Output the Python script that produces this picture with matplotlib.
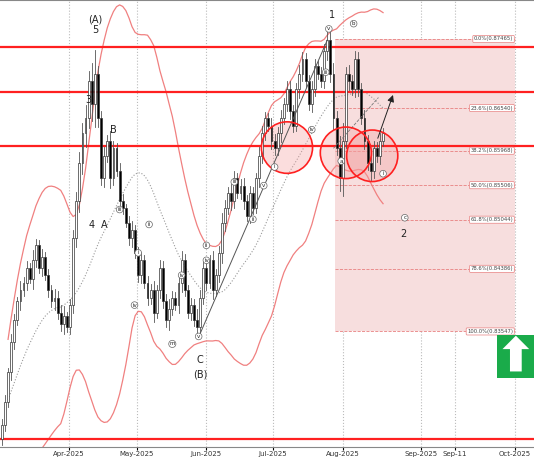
import numpy as np
import pandas as pd
import matplotlib
matplotlib.use("Agg")
import matplotlib.pyplot as plt
from matplotlib.patches import Ellipse, Rectangle, FancyArrow

closes = [0.8230, 0.8260, 0.8300, 0.8340,
          0.8370, 0.8395, 0.8410, 0.8420,
          0.8440, 0.8425, 0.8450, 0.8470, 0.8440, 0.8455,
          0.8430, 0.8410, 0.8395, 0.8400,
          0.8380, 0.8365, 0.8375, 0.8360,
          0.8390, 0.8480, 0.8530, 0.8580,
          0.8620, 0.8640, 0.8690, 0.8660, 0.8700,
          0.8640, 0.8560, 0.8590,
          0.8610, 0.8560, 0.8600, 0.8570, 0.8530,
          0.8520, 0.8500, 0.8480, 0.8490, 0.8460, 0.8430,
          0.8450, 0.8420, 0.8400, 0.8410, 0.8380, 0.8410,
          0.8440, 0.8395, 0.8370, 0.8385, 0.8400, 0.8390,
          0.8420, 0.8450, 0.8410, 0.8380, 0.8390, 0.8370, 0.8360,
          0.8400, 0.8440, 0.8420, 0.8450, 0.8410, 0.8430,
          0.8460, 0.8500, 0.8520, 0.8540, 0.8530,
          0.8560, 0.8540, 0.8550, 0.8530, 0.8510, 0.8540,
          0.8520, 0.8560, 0.8590, 0.8620, 0.8640,
          0.8630, 0.8610, 0.8600, 0.8620, 0.8640, 0.8660,
          0.8680, 0.8650, 0.8630, 0.8680, 0.8700, 0.8720,
          0.8690, 0.8660, 0.8680, 0.8710, 0.8700,
          0.8690, 0.8730, 0.8745, 0.8700,
          0.8640, 0.8600, 0.8560, 0.8610,
          0.8700, 0.8690, 0.8680, 0.8720,
          0.8680, 0.8640, 0.8610, 0.8580, 0.8570,
          0.8600, 0.8590, 0.8610, 0.8620]
first_open = 0.8210
wicks = [12, 15, 10, 18, 14, 10, 20, 12, 16, 10, 22, 14, 12, 18,
         10, 15, 12, 20, 14, 16, 22, 10, 14, 18, 20, 26, 24, 30, 22, 40,
         52, 18, 16, 20, 14, 22, 16, 12, 18, 14, 10, 16, 20, 12, 14,
         18, 12, 16, 14, 20, 12, 18, 14, 16, 22, 14, 12, 18, 20, 14,
         12, 16, 14, 24, 18, 14, 16, 12, 20, 14, 16, 22, 18, 14, 20,
         16, 12, 14, 18, 12, 16, 14, 12, 20, 16, 14, 12, 18, 16, 14,
         20, 12, 16, 18, 14, 12, 20, 16, 12, 14, 18, 16, 12, 14, 16,
         20, 18, 24, 16, 28, 40, 16, 20, 14, 18, 16, 12, 18, 14, 20,
         16, 14, 18, 12]

hlines = [0.87358, 0.86756, 0.86034, 0.82103]
fib_pct = ["0.0%", "23.6%", "38.2%", "50.0%", "61.8%", "78.6%", "100.0%"]
fib_lvl = [0.87465, 0.86540, 0.85968, 0.85506, 0.85044, 0.84386, 0.83547]
tick_pos = [21.6, 43.5, 65.8, 87.4, 110.0, 135.2, 146.1, 165.5]
tick_lab = ["Apr-2025", "May-2025", "Jun-2025", "Jul-2025", "Aug-2025",
            "Sep-2025", "Sep-11", "Oct-2025"]

fig = plt.figure(figsize=[5.34, 4.62], dpi=100)
ax = fig.add_axes([0, 15 / 462, 1, 1 - 15 / 462])
ax.set_xlim(-0.6, 171.7)
ax.set_ylim(0.81999, 0.87987)
ax.set_yticks([])
ax.set_xticks(tick_pos)
ax.set_xticklabels(tick_lab, fontsize=5, color="#333333")
ax.tick_params(axis="x", length=2, pad=1)
for s in ["left", "right"]:
    ax.spines[s].set_visible(False)
ax.spines["top"].set_color("#888888")
ax.spines["bottom"].set_color("#888888")
for p in tick_pos:
    ax.axvline(p, color="#bbbbbb", linestyle=":", linewidth=0.8, zorder=0)

# fibonacci box
x0, x1 = 107.5, 165.5
ax.add_patch(Rectangle((x0, fib_lvl[-1]), x1 - x0, fib_lvl[0] - fib_lvl[-1],
                       facecolor="#f7dede", edgecolor="none", zorder=0.5))
for pct, lvl in zip(fib_pct, fib_lvl):
    ax.plot([x0, x1], [lvl, lvl], color="#e88080", linestyle="--", linewidth=0.6, zorder=1)
    ax.text(x1 - 0.5, lvl, f"{pct}({lvl:.5f})", fontsize=3.8, ha="right", va="center",
            color="#444444", zorder=3,
            bbox=dict(boxstyle="round,pad=0.2", fc="white", ec="#e88080", lw=0.5))

# bollinger bands (smoothed)
c = pd.Series(closes)
mid = c.rolling(20, min_periods=3).mean().ewm(span=6).mean()
sd = c.rolling(20, min_periods=3).std().ewm(span=6).mean()
xs = np.arange(len(closes))
ax.plot(xs, mid + 2.3 * sd, color="#f08080", linewidth=0.9, zorder=1)
ax.plot(xs, mid - 2.3 * sd, color="#f08080", linewidth=0.9, zorder=1)
ax.plot(xs, mid, color="#999999", linestyle=":", linewidth=0.8, zorder=1)

for h in hlines:
    ax.axhline(h, color="#ff2020", linewidth=1.6, zorder=2)

# circles
for cx, cy in [(92, 0.8601), (111, 0.8594), (119.5, 0.8590)]:
    ax.add_patch(Ellipse((cx, cy), 16.5, 0.0069, facecolor="#f4a0a0", alpha=0.35,
                         edgecolor="none", zorder=1.5))
    ax.add_patch(Ellipse((cx, cy), 16.5, 0.0069, facecolor="none",
                         edgecolor="#ff2020", linewidth=1.2, zorder=4))

# candles
opens = [first_open] + closes[:-1]
for i, (o, cl, w) in enumerate(zip(opens, closes, wicks)):
    hi = max(o, cl) + w * 1e-4 * 0.6
    lo = min(o, cl) - w * 1e-4 * 0.6
    ax.plot([i, i], [lo, hi], color="#555555", linewidth=0.6, zorder=3)
    up = cl >= o
    ax.add_patch(Rectangle((i - 0.3, min(o, cl)), 0.6, max(abs(cl - o), 0.0002),
                           facecolor="white" if up else "black",
                           edgecolor="#333333", linewidth=0.5, zorder=3))

# trend lines
ax.plot([107, 121.5], [0.8600, 0.8668], color="#777777", linestyle="--", linewidth=0.6, zorder=3)
ax.annotate("", xy=(126.5, 0.8675), xytext=(121, 0.8610),
            arrowprops=dict(arrowstyle="-|>", color="#222222", lw=0.7), zorder=5)
ax.plot([64, 105], [0.8352, 0.8745], color="#555555", linewidth=0.7, zorder=3)

# wave labels
big = [("(A)", 30, 0.8772), ("5", 30, 0.8758), ("3", 27.8, 0.8665), ("B", 36, 0.8625),
       ("4", 29, 0.8497), ("A", 33, 0.8497), ("1", 106.5, 0.8779), ("2", 129.5, 0.8485),
       ("C", 64, 0.8317), ("(B)", 64, 0.8297)]
for t, x, y in big:
    ax.text(x, y, t, fontsize=7, ha="center", va="center", color="#222222", zorder=6)
small = [("v", 105.5, 0.8760), ("b", 113.5, 0.8767), ("iii", 38, 0.8518), ("ii", 47.5, 0.8498),
         ("i", 44, 0.8460), ("iv", 42.8, 0.8390), ("iv", 66, 0.8450), ("iii", 75, 0.8555),
         ("ii", 81, 0.8505), ("i", 88, 0.8575), ("v", 84.5, 0.8550), ("iii", 104.5, 0.8702),
         ("iv", 100, 0.8625), ("a", 109.5, 0.8583), ("i", 123, 0.8566), ("c", 130, 0.8507),
         ("v", 63.5, 0.8348), ("m", 55, 0.8338), ("iv", 58, 0.8430), ("ii", 66, 0.8470)]
for t, x, y in small:
    ax.text(x, y, t, fontsize=4, ha="center", va="center", color="#222222", zorder=6,
            bbox=dict(boxstyle="circle,pad=0.15", fc="white", ec="#666666", lw=0.5))

# green arrow box
ax.add_patch(Rectangle((0.931, 0.154), 0.07, 0.097, transform=ax.transAxes,
                       facecolor="#1aab4a", edgecolor="none", zorder=6))
ax.add_patch(FancyArrow(0.966, 0.169, 0, 0.05, width=0.022, head_width=0.05,
                        head_length=0.03, transform=ax.transAxes,
                        facecolor="white", edgecolor="none", zorder=7))

fig.savefig("out.png", dpi=100)
